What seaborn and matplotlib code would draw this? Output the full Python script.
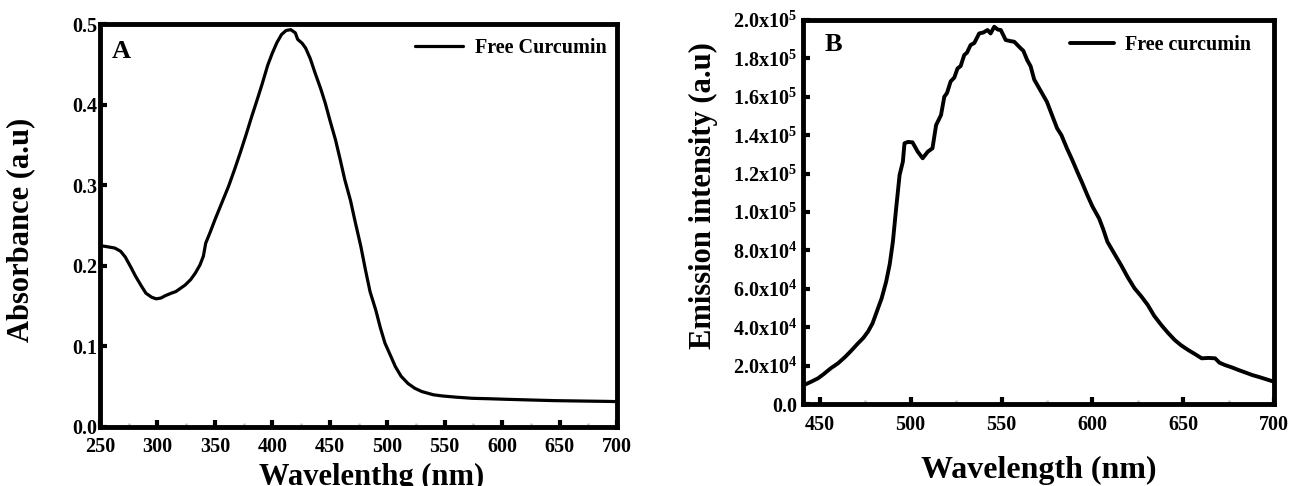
import numpy as np
import pandas as pd
import matplotlib
matplotlib.use("Agg")
import matplotlib.pyplot as plt
import seaborn as sns

sns.set_style("ticks")
plt.rcParams["font.family"] = ["Liberation Serif", "DejaVu Serif"]
plt.rcParams["font.weight"] = "bold"
plt.rcParams["axes.labelweight"] = "bold"
plt.rcParams["text.color"] = "black"
plt.rcParams["axes.labelcolor"] = "black"
plt.rcParams["xtick.color"] = "black"
plt.rcParams["ytick.color"] = "black"
plt.rcParams["mathtext.fontset"] = "custom"
plt.rcParams["mathtext.rm"] = "Liberation Serif:bold"
plt.rcParams["mathtext.bf"] = "Liberation Serif:bold"
plt.rcParams["mathtext.it"] = "Liberation Serif:bold"
plt.rcParams["mathtext.default"] = "rm"

# panel A: UV-vis absorbance of free curcumin
abs_wavelength = [250, 255, 263, 268, 272, 277, 281, 286, 290, 295, 299, 303, 307, 312,
                  316, 320, 324, 329, 333, 337, 340, 342, 346, 350, 356, 362, 367, 372,
                  377, 382, 387, 391, 396, 400, 404, 408, 412, 416, 420, 422, 426, 429,
                  433, 437, 442, 446, 450, 455, 459, 463, 468, 472, 477, 481, 485, 490,
                  494, 498, 503, 507, 512, 518, 524, 530, 540, 548, 560, 574, 590, 603,
                  625, 646, 670, 690, 700]
absorbance = [0.225, 0.224, 0.222, 0.218, 0.211, 0.198, 0.187, 0.175, 0.166, 0.161, 0.159,
              0.160, 0.163, 0.166, 0.168, 0.172, 0.176, 0.183, 0.191, 0.201, 0.212, 0.228,
              0.242, 0.257, 0.278, 0.299, 0.319, 0.340, 0.362, 0.385, 0.407, 0.425, 0.449,
              0.464, 0.477, 0.487, 0.492, 0.493, 0.489, 0.481, 0.476, 0.470, 0.457, 0.440,
              0.420, 0.402, 0.381, 0.356, 0.332, 0.307, 0.281, 0.255, 0.224, 0.195, 0.168,
              0.145, 0.123, 0.104, 0.088, 0.075, 0.063, 0.054, 0.048, 0.044, 0.040, 0.0385,
              0.037, 0.0356, 0.035, 0.0344, 0.0335, 0.0327, 0.0322, 0.0318, 0.0315]

# panel B: fluorescence emission of free curcumin
em_wavelength = [441.5, 445, 449, 452, 456, 460, 464, 467, 471, 474, 476.5, 479, 482, 484,
                 486.5, 488.5, 490.2, 492, 493.9, 495.7, 496.6, 498.5, 501, 503.9, 506.6,
                 509.4, 512, 514, 516.7, 518.5, 520, 522, 524, 525.8, 527.5, 529.5, 531,
                 533, 535, 537.7, 540, 542.3, 544, 546, 548, 549.6, 552.3, 555, 557, 560.5,
                 562, 564.2, 566, 568, 575, 578, 580.6, 583, 586, 589, 591.7, 594.5, 597.2,
                 600, 603.7, 606, 608.3, 612, 615.8, 619.5, 623.2, 627, 630.5, 634, 638,
                 641.7, 645.4, 649, 652.8, 656.5, 660.2, 664, 667.6, 670, 673, 677, 680.5,
                 684, 688, 692, 697, 700]
emission = [10000, 11500, 13400, 15500, 18600, 21200, 24600, 27500, 31600, 34500, 37700,
            42000, 49800, 55000, 63700, 73000, 84500, 101900, 119300, 126200, 135800,
            136500, 136300, 131400, 128000, 131400, 133200, 145300, 150500, 160000, 162000,
            168000, 170000, 174800, 176000, 181800, 183000, 187000, 188000, 193000, 193500,
            194800, 193000, 196500, 195000, 194800, 189600, 189000, 188700, 185300, 184000,
            179000, 176000, 169000, 157400, 150000, 143600, 140000, 133200, 127000, 121000,
            115000, 108900, 103000, 96700, 91000, 84500, 78500, 72400, 66000, 60300, 56000,
            51600, 46000, 41100, 37000, 33300, 30500, 28100, 26000, 23800, 24000, 23800,
            21500, 20300, 19000, 17700, 16500, 15100, 14000, 12500, 11600]

abs_xticks = [250, 300, 350, 400, 450, 500, 550, 600, 650, 700]
abs_yticks = [0.0, 0.1, 0.2, 0.3, 0.4, 0.5]
em_xticks = [450, 500, 550, 600, 650, 700]
em_yticks = [0, 20000, 40000, 60000, 80000, 100000, 120000, 140000, 160000, 180000, 200000]
em_yticklabels = ["0.0", "2.0x$10^{4}$", "4.0x$10^{4}$", "6.0x$10^{4}$", "8.0x$10^{4}$",
                  "1.0x$10^{5}$", "1.2x$10^{5}$", "1.4x$10^{5}$", "1.6x$10^{5}$",
                  "1.8x$10^{5}$", "2.0x$10^{5}$"]

df_abs = pd.DataFrame({"wl": abs_wavelength, "val": absorbance})
df_em = pd.DataFrame({"wl": em_wavelength, "val": emission})

fig = plt.figure(figsize=(12.93, 4.86), dpi=100)
ax1 = fig.add_axes([0.0773, 0.1214, 0.4000, 0.8292])
ax2 = fig.add_axes([0.6210, 0.1687, 0.3643, 0.7901])


def style_axes(ax):
    for s in ax.spines.values():
        s.set_linewidth(3.5)
        s.set_color("black")
    ax.tick_params(axis="both", which="major", direction="in", length=5, width=3,
                   labelsize=14.5, top=False, right=False, color="black",
                   labelcolor="black")
    ax.tick_params(axis="x", which="minor", direction="in", length=3, width=2,
                   color="#c8c8c8", top=False)
    for lab in ax.get_xticklabels() + ax.get_yticklabels():
        lab.set_fontweight("bold")


# panel A
sns.lineplot(data=df_abs, x="wl", y="val", ax=ax1, color="black", linewidth=2.3,
             estimator=None, label="Free Curcumin")
ax1.set_xlim(250, 700)
ax1.set_ylim(0, 0.5)
ax1.set_xticks(abs_xticks)
ax1.set_xticks(np.arange(275, 700, 50), minor=True)
ax1.set_yticks(abs_yticks)
ax1.set_yticklabels([f"{v:.1f}" for v in abs_yticks])
style_axes(ax1)
ax1.tick_params(axis="y", pad=2)
ax1.tick_params(axis="x", pad=7)
ax1.set_xlabel("Wavelenthg (nm)", fontsize=22, fontweight="bold", color="black")
ax1.set_ylabel("Absorbance (a.u)", fontsize=22, fontweight="bold", color="black")
ax1.xaxis.set_label_coords(0.526, -0.09)
ax1.yaxis.set_label_coords(-0.126, 0.489)
ax1.text(0.0416, 0.932, "A", transform=ax1.transAxes, fontsize=19, fontweight="bold",
         ha="center", va="center", color="black")
ax1.legend(loc="upper right", bbox_to_anchor=(0.98, 0.965), frameon=False,
           handlelength=2.4, handletextpad=0.6, borderpad=0, borderaxespad=0,
           prop={"weight": "bold", "size": 14.5})

# panel B
sns.lineplot(data=df_em, x="wl", y="val", ax=ax2, color="black", linewidth=2.8,
             estimator=None, label="Free curcumin")
ax2.set_xlim(440.7, 700)
ax2.set_ylim(0, 200000)
ax2.set_xticks(em_xticks)
ax2.set_xticks(np.arange(475, 700, 50), minor=True)
ax2.set_yticks(em_yticks)
ax2.set_yticklabels(em_yticklabels)
style_axes(ax2)
ax2.tick_params(axis="y", pad=4)
ax2.tick_params(axis="x", pad=8)
ax2.set_xlabel("Wavelength (nm)", fontsize=23, fontweight="bold", color="black")
ax2.set_ylabel("Emission intensity (a.u)", fontsize=22, fontweight="bold", color="black")
ax2.xaxis.set_label_coords(0.5, -0.135)
ax2.yaxis.set_label_coords(-0.180, 0.543)
ax2.text(0.0637, 0.937, "B", transform=ax2.transAxes, fontsize=19, fontweight="bold",
         ha="center", va="center", color="black")
ax2.legend(loc="upper right", bbox_to_anchor=(0.952, 0.96), frameon=False,
           handlelength=2.2, handletextpad=0.55, borderpad=0, borderaxespad=0,
           prop={"weight": "bold", "size": 14.5})

fig.savefig("out.png", dpi=100)
